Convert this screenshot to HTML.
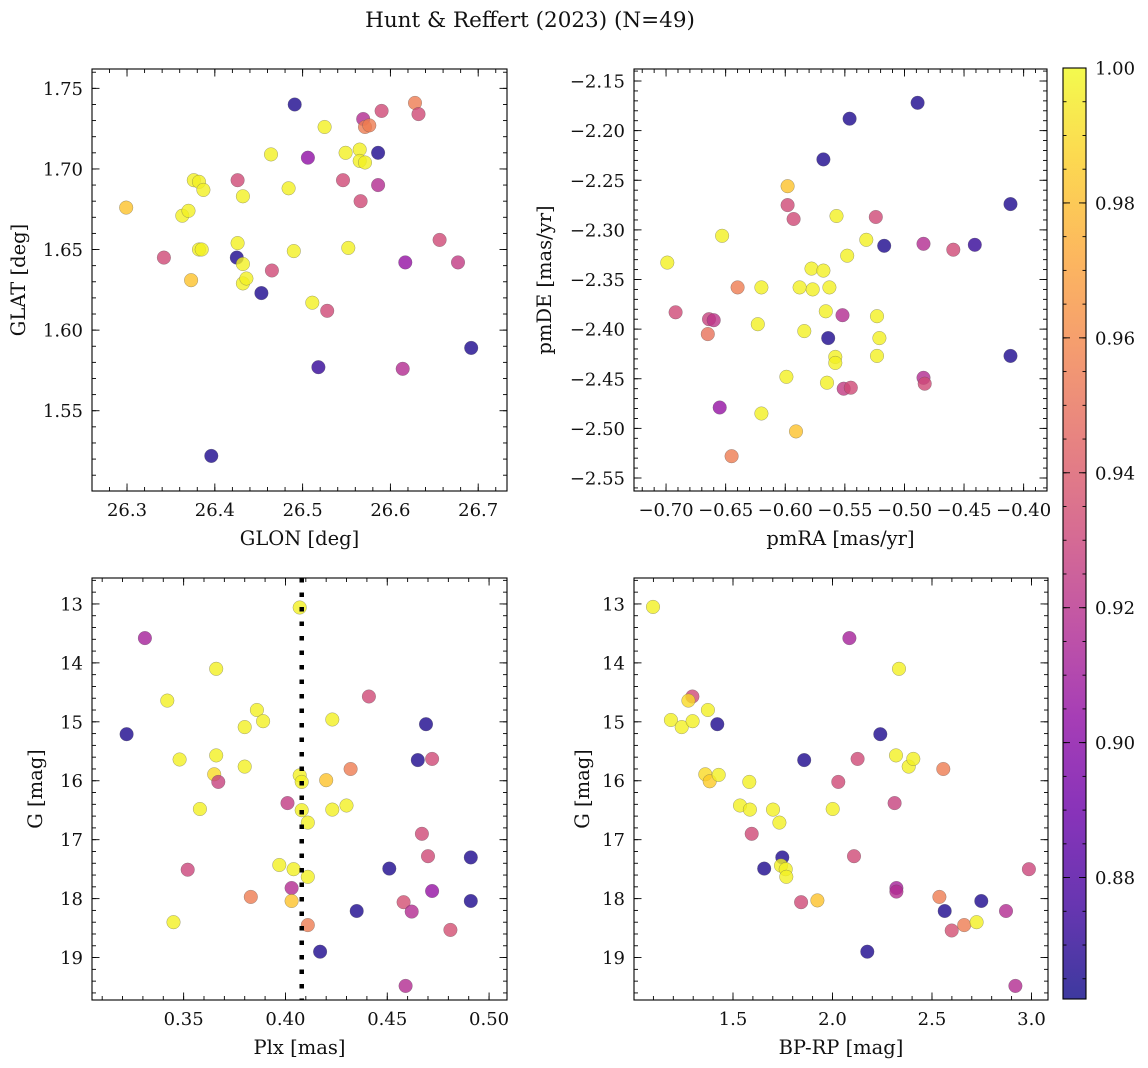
<!DOCTYPE html>
<html><head><meta charset="utf-8"><title>Hunt & Reffert (2023)</title>
<style>
html,body{margin:0;padding:0;background:#fff;}
svg{display:block;font-family:"DejaVu Serif","Liberation Serif",serif;}
</style></head>
<body>
<svg id="fig" width="1148" height="1068" viewBox="0 0 1148 1068" xmlns="http://www.w3.org/2000/svg">
<rect x="0" y="0" width="1148" height="1068" fill="#fff"/>
<text x="530" y="27" font-size="21.5" text-anchor="middle" fill="#111">Hunt &amp; Reffert (2023) (N=49)</text>
</svg>
<script>
// ---- data (membership probability) ----
const probP1 = [0.866,0.997,0.917,0.932,0.955,0.932,0.955,0.955,0.997,0.903,0.997,0.997,0.866,0.997,0.997,0.997,0.997,0.997,0.932,0.997,0.997,0.932,0.917,0.932,0.982,0.997,0.997,0.932,0.997,0.997,0.997,0.866,0.997,0.982,0.997,0.997,0.932,0.997,0.997,0.866,0.997,0.932,0.932,0.905,0.925,0.872,0.917,0.866,0.866];
const glon = [26.491,26.525,26.569,26.590,26.628,26.632,26.571,26.576,26.464,26.506,26.549,26.565,26.586,26.565,26.571,26.376,26.382,26.387,26.426,26.432,26.484,26.546,26.586,26.566,26.299,26.363,26.370,26.342,26.382,26.385,26.426,26.425,26.432,26.373,26.432,26.436,26.465,26.490,26.552,26.453,26.511,26.528,26.656,26.617,26.677,26.518,26.614,26.692,26.396];
const glat = [1.740,1.726,1.731,1.736,1.741,1.734,1.726,1.727,1.709,1.707,1.710,1.712,1.710,1.705,1.704,1.693,1.692,1.687,1.693,1.683,1.688,1.693,1.690,1.680,1.676,1.671,1.674,1.645,1.650,1.650,1.654,1.645,1.641,1.631,1.629,1.632,1.637,1.649,1.651,1.623,1.617,1.612,1.656,1.642,1.642,1.577,1.576,1.589,1.522];

const probP2 = [0.866,0.866,0.866,0.982,0.932,0.932,0.997,0.932,0.866,0.997,0.997,0.866,0.917,0.932,0.872,0.997,0.997,0.997,0.997,0.955,0.997,0.997,0.997,0.997,0.932,0.928,0.922,0.950,0.997,0.997,0.997,0.917,0.866,0.997,0.997,0.997,0.997,0.997,0.866,0.997,0.997,0.925,0.932,0.917,0.932,0.905,0.997,0.982,0.955];
const pmra = [-0.489,-0.546,-0.568,-0.598,-0.598,-0.593,-0.557,-0.524,-0.411,-0.653,-0.532,-0.517,-0.484,-0.459,-0.441,-0.548,-0.699,-0.578,-0.568,-0.640,-0.620,-0.588,-0.577,-0.563,-0.692,-0.664,-0.660,-0.665,-0.623,-0.584,-0.566,-0.552,-0.564,-0.523,-0.521,-0.558,-0.558,-0.523,-0.411,-0.599,-0.565,-0.551,-0.545,-0.484,-0.483,-0.655,-0.620,-0.591,-0.645];
const pmde = [-2.172,-2.188,-2.229,-2.256,-2.275,-2.289,-2.286,-2.287,-2.274,-2.306,-2.310,-2.316,-2.314,-2.320,-2.315,-2.326,-2.333,-2.339,-2.341,-2.358,-2.358,-2.358,-2.360,-2.358,-2.383,-2.390,-2.391,-2.405,-2.395,-2.402,-2.382,-2.386,-2.409,-2.387,-2.409,-2.428,-2.434,-2.427,-2.427,-2.448,-2.454,-2.460,-2.459,-2.449,-2.455,-2.479,-2.485,-2.503,-2.528];

const probP3 = [0.997,0.912,0.997,0.997,0.866,0.932,0.997,0.997,0.997,0.997,0.866,0.997,0.997,0.997,0.866,0.932,0.955,0.990,0.928,0.997,0.997,0.982,0.925,0.997,0.997,0.997,0.997,0.997,0.932,0.932,0.866,0.866,0.930,0.997,0.997,0.997,0.917,0.982,0.955,0.905,0.935,0.917,0.866,0.866,0.955,0.935,0.997,0.866,0.917];
const plx = [0.407,0.331,0.366,0.342,0.322,0.441,0.386,0.389,0.380,0.423,0.469,0.348,0.366,0.380,0.465,0.472,0.432,0.365,0.367,0.407,0.408,0.420,0.401,0.358,0.408,0.411,0.423,0.430,0.467,0.470,0.491,0.451,0.352,0.397,0.404,0.411,0.403,0.403,0.383,0.472,0.458,0.462,0.491,0.435,0.411,0.481,0.345,0.417,0.459];
const gmag3 = [13.06,13.58,14.10,14.64,15.21,14.57,14.80,14.99,15.09,14.96,15.04,15.64,15.57,15.76,15.65,15.63,15.80,15.89,16.02,15.91,16.02,15.99,16.38,16.48,16.50,16.71,16.49,16.42,16.90,17.28,17.30,17.49,17.51,17.43,17.50,17.63,17.82,18.04,17.97,17.87,18.06,18.22,18.04,18.21,18.45,18.53,18.40,18.90,19.48];
const plxLine = 0.408;

const probP4 = [0.997,0.912,0.997,0.932,0.990,0.997,0.997,0.997,0.997,0.866,0.866,0.866,0.932,0.997,0.997,0.997,0.955,0.990,0.985,0.997,0.997,0.932,0.928,0.997,0.997,0.997,0.997,0.997,0.932,0.932,0.866,0.866,0.997,0.997,0.997,0.930,0.912,0.917,0.932,0.982,0.955,0.866,0.866,0.935,0.955,0.997,0.917,0.866,0.917];
const bprp = [1.098,2.085,2.334,1.296,1.276,1.188,1.242,1.297,1.374,1.421,2.240,1.858,2.126,2.319,2.383,2.406,2.557,1.361,1.383,1.428,1.582,2.029,2.312,1.535,1.585,1.701,2.001,1.733,1.594,2.108,1.748,1.657,1.741,1.765,1.768,2.987,2.321,2.321,1.842,1.924,2.537,2.564,2.748,2.599,2.662,2.724,2.872,2.175,2.919];
const gmag4 = [13.05,13.58,14.10,14.57,14.64,14.97,15.09,14.99,14.80,15.04,15.21,15.65,15.63,15.57,15.76,15.63,15.80,15.89,16.01,15.90,16.02,16.02,16.38,16.42,16.49,16.49,16.48,16.71,16.90,17.28,17.30,17.49,17.44,17.50,17.63,17.50,17.82,17.88,18.06,18.03,17.97,18.21,18.04,18.54,18.45,18.40,18.21,18.90,19.48];

const ticksP1x = [26.3,26.4,26.5,26.6,26.7];
const ticksP1y = [1.55,1.60,1.65,1.70,1.75];
const ticksP2x = [-0.70,-0.65,-0.60,-0.55,-0.50,-0.45,-0.40];
const ticksP2y = [-2.55,-2.50,-2.45,-2.40,-2.35,-2.30,-2.25,-2.20,-2.15];
const ticksP3x = [0.35,0.40,0.45,0.50];
const ticksGy = [13,14,15,16,17,18,19];
const ticksP4x = [1.5,2.0,2.5,3.0];
const ticksCbar = [0.88,0.90,0.92,0.94,0.96,0.98,1.00];

const VMIN = 0.862, VMAX = 1.0;
const TICKFS = 18, LABELFS = 19.5;
const plasma = [[13,8,135],[65,4,157],[106,0,168],[143,13,164],[177,42,144],[204,71,120],[225,100,98],[242,132,75],[252,166,54],[252,206,37],[240,249,33]];
function cmap(p){
  let t = Math.max(0, Math.min(1, (p - VMIN) / (VMAX - VMIN))) * 10;
  const i = Math.min(9, Math.floor(t)), f = t - i;
  const a = plasma[i], b = plasma[i+1];
  return 'rgb(' + a.map((v,k)=>Math.round(v + (b[k]-v)*f)).join(',') + ')';
}

const svg = document.getElementById('fig');
const NS = 'http://www.w3.org/2000/svg';
function mk(tag, attrs, parent){
  const e = document.createElementNS(NS, tag);
  for (const k in attrs) e.setAttribute(k, attrs[k]);
  (parent || svg).appendChild(e);
  return e;
}
function fmt(v, d){ return v.toFixed(d).replace('-', '\u2212'); }

function panel(cfg){
  const g = mk('g', {});
  
  
  const {x0,y0,x1,y1,xmin,xmax,ymin,ymax,invY} = cfg;
  const sx = v => x0 + (v - xmin) / (xmax - xmin) * (x1 - x0);
  const sy = v => invY ? y0 + (v - ymin) / (ymax - ymin) * (y1 - y0) : y1 - (v - ymin) / (ymax - ymin) * (y1 - y0);
  const pts = mk('g', {}, g);
  
  
  cfg.xs.forEach((xv, i) => {
    const c = mk('circle', {cx: sx(xv).toFixed(1), cy: sy(cfg.ys[i]).toFixed(1), r: 6.8, fill: cmap(cfg.ps[i]), 'fill-opacity': 0.8, stroke: '#555', 'stroke-opacity': 0.55, 'stroke-width': 0.5}, pts);
    
    
  });
  if (cfg.vline !== undefined){
    const l = mk('line', {x1: sx(cfg.vline), x2: sx(cfg.vline), y1: y0, y2: y1, stroke: '#000', 'stroke-width': 4.5, 'stroke-dasharray': '4.5 10'}, g);
    
    
  }
  const tk = mk('g', {stroke: '#000', 'stroke-width': 0.9}, g);
  
  
  const eps = 1e-9;
  for (let v = Math.ceil((xmin)/cfg.xminor - eps) * cfg.xminor; v <= xmax + eps; v += cfg.xminor){
    const X = sx(v);
    if (X < x0 + 0.5 || X > x1 - 0.5) continue;
    mk('line', {x1: X, x2: X, y1: y1, y2: y1 - 4}, tk);
    mk('line', {x1: X, x2: X, y1: y0, y2: y0 + 4}, tk);
  }
  for (let v = Math.ceil((ymin)/cfg.yminor - eps) * cfg.yminor; v <= ymax + eps; v += cfg.yminor){
    const Y = sy(v);
    if (Y < y0 + 0.5 || Y > y1 - 0.5) continue;
    mk('line', {x1: x0, x2: x0 + 4, y1: Y, y2: Y}, tk);
    mk('line', {x1: x1, x2: x1 - 4, y1: Y, y2: Y}, tk);
  }
  cfg.xt.forEach(v => {
    const X = sx(v);
    mk('line', {x1: X, x2: X, y1: y1, y2: y1 - 7.5}, tk);
    mk('line', {x1: X, x2: X, y1: y0, y2: y0 + 7.5}, tk);
    const t = mk('text', {x: X, y: y1 + 25, 'font-size': TICKFS, 'text-anchor': 'middle', fill: '#111', stroke: 'none'}, g);
    t.textContent = fmt(v, cfg.xd);
    
    
  });
  cfg.yt.forEach(v => {
    const Y = sy(v);
    mk('line', {x1: x0, x2: x0 + 7.5, y1: Y, y2: Y}, tk);
    mk('line', {x1: x1, x2: x1 - 7.5, y1: Y, y2: Y}, tk);
    const t = mk('text', {x: x0 - 9, y: Y + 6.5, 'font-size': TICKFS, 'text-anchor': 'end', fill: '#111', stroke: 'none'}, g);
    t.textContent = fmt(v, cfg.yd);
    
    
  });
  const fr = mk('rect', {x: x0, y: y0, width: x1 - x0, height: y1 - y0, fill: 'none', stroke: '#000', 'stroke-width': 1.1}, g);
  
  
  const xl = mk('text', {x: (x0 + x1) / 2, y: y1 + 54, 'font-size': LABELFS, 'text-anchor': 'middle', fill: '#111'}, g);
  xl.textContent = cfg.xlabel;
  
  
  const yl = mk('text', {x: 0, y: 0, 'font-size': LABELFS, 'text-anchor': 'middle', fill: '#111', transform: 'translate(' + cfg.ylx + ',' + ((y0 + y1) / 2) + ') rotate(-90)'}, g);
  yl.textContent = cfg.ylabel;
  
  
}

panel({name:'glon-glat-panel', x0:92, y0:69, x1:507, y1:491, xmin:26.2601, xmax:26.7328, ymin:1.5002, ymax:1.762,
  xs:glon, ys:glat, ps:probP1, xt:ticksP1x, yt:ticksP1y, xd:1, yd:2, xminor:0.02, yminor:0.01,
  xlabel:'GLON [deg]', ylabel:'GLAT [deg]', ylx:25});
panel({name:'proper-motion-panel', x0:634, y0:69, x1:1047, y1:491, xmin:-0.7269, xmax:-0.3804, ymin:-2.5631, ymax:-2.1379,
  xs:pmra, ys:pmde, ps:probP2, xt:ticksP2x, yt:ticksP2y, xd:2, yd:2, xminor:0.01, yminor:0.01,
  xlabel:'pmRA [mas/yr]', ylabel:'pmDE [mas/yr]', ylx:551});
panel({name:'parallax-magnitude-panel', x0:92, y0:578, x1:507, y1:1000, xmin:0.305, xmax:0.5088, ymin:12.56, ymax:19.72, invY:true,
  xs:plx, ys:gmag3, ps:probP3, xt:ticksP3x, yt:ticksGy, xd:2, yd:0, xminor:0.01, yminor:0.2, vline:plxLine,
  xlabel:'Plx [mas]', ylabel:'G [mag]', ylx:42});
panel({name:'color-magnitude-panel', x0:634, y0:578, x1:1048, y1:1000, xmin:1.0025, xmax:3.083, ymin:12.56, ymax:19.72, invY:true,
  xs:bprp, ys:gmag4, ps:probP4, xt:ticksP4x, yt:ticksGy, xd:1, yd:0, xminor:0.1, yminor:0.2,
  xlabel:'BP-RP [mag]', ylabel:'G [mag]', ylx:589});

(function(){
  const cb = mk('g', {});
  
  
  const defs = mk('defs', {}, cb);
  const lg = mk('linearGradient', {id: 'plasmaGrad', x1: 0, y1: 1, x2: 0, y2: 0}, defs);
  plasma.forEach((c, i) => mk('stop', {offset: (i / 10), 'stop-color': 'rgb(' + c.join(',') + ')', 'stop-opacity': 0.8}, lg));
  const X0 = 1063, X1 = 1086, Y0 = 68, Y1 = 999;
  const sy = v => Y1 - (v - VMIN) / (VMAX - VMIN) * (Y1 - Y0);
  mk('rect', {x: X0, y: Y0, width: X1 - X0, height: Y1 - Y0, fill: 'url(#plasmaGrad)'}, cb);
  for (let v = 0.865; v <= 1.0001; v += 0.005){
    const Y = sy(v);
    mk('line', {x1: X1, x2: X1 - 3.5, y1: Y, y2: Y, stroke: '#000', 'stroke-width': 0.9}, cb);
    mk('line', {x1: X0, x2: X0 + 3.5, y1: Y, y2: Y, stroke: '#000', 'stroke-width': 0.9}, cb);
  }
  ticksCbar.forEach(v => {
    const Y = sy(v);
    mk('line', {x1: X1, x2: X1 - 7, y1: Y, y2: Y, stroke: '#000', 'stroke-width': 0.9}, cb);
    mk('line', {x1: X0, x2: X0 + 7, y1: Y, y2: Y, stroke: '#000', 'stroke-width': 0.9}, cb);
    const t = mk('text', {x: X1 + 9, y: Y + 6.5, 'font-size': TICKFS, fill: '#111'}, cb);
    t.textContent = v.toFixed(2);
    
    
  });
  mk('rect', {x: X0, y: Y0, width: X1 - X0, height: Y1 - Y0, fill: 'none', stroke: '#000', 'stroke-width': 1.1}, cb);
})();
</script>
</body></html>
